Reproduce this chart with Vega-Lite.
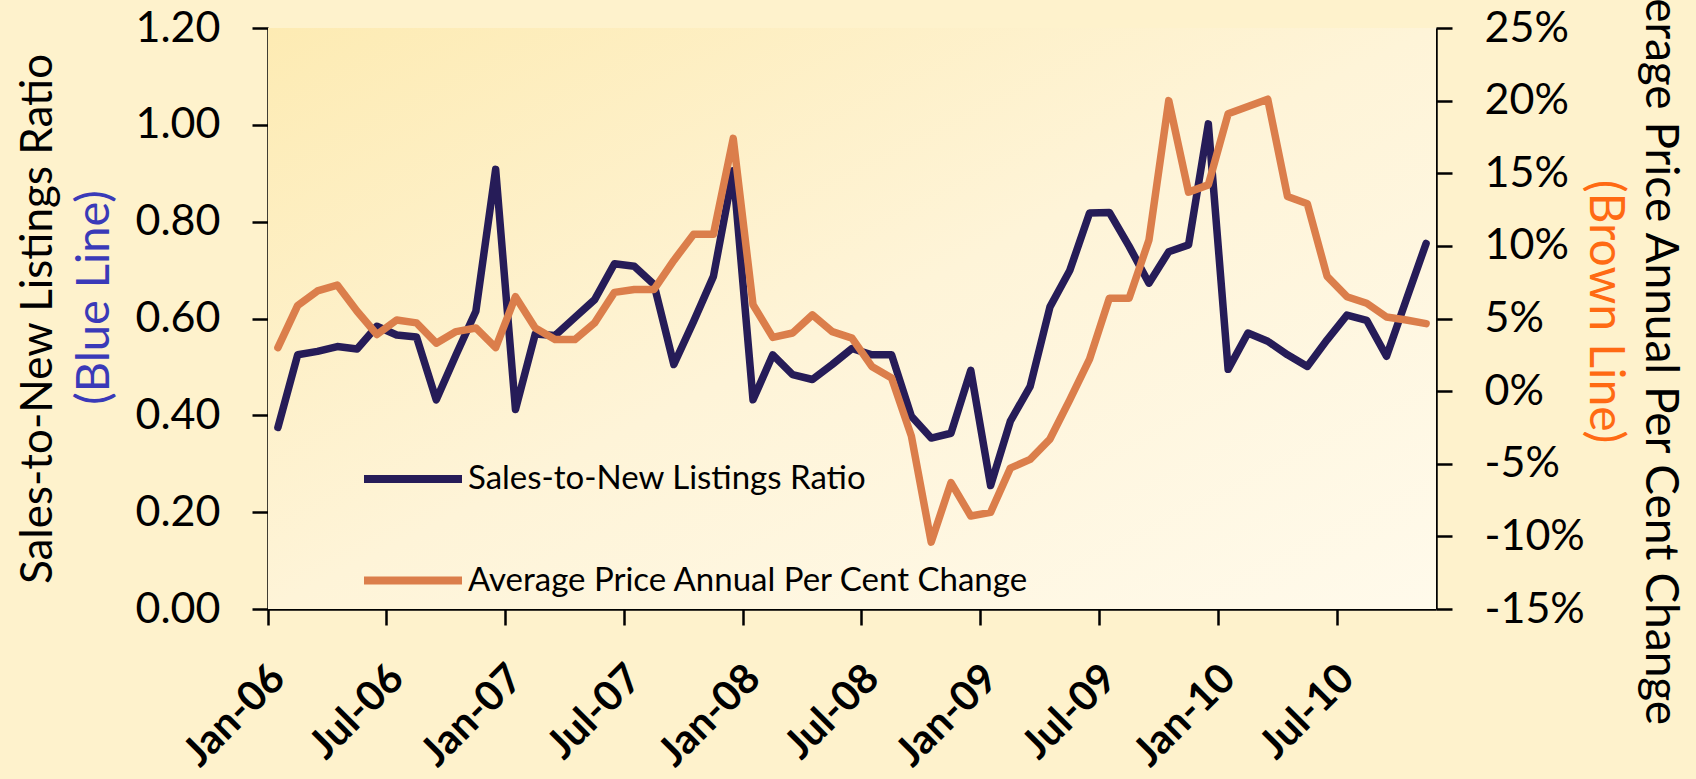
{
  "$schema": "https://vega.github.io/schema/vega-lite/v6.json",
  "width": 1168,
  "height": 581,
  "autosize": {"type": "none"},
  "padding": {"left": 268, "top": 28, "right": 260, "bottom": 170},
  "background": "#FEF2CC",
  "config": {
    "view": {"stroke": null},
    "font": "Lato",
    "axis": {
      "grid": false,
      "domainColor": "#000000",
      "domainWidth": 2.5,
      "tickColor": "#000000",
      "tickWidth": 2.5,
      "tickSize": 16,
      "labelColor": "#000000",
      "labelFont": "Lato",
      "labelFontSize": 43,
      "labelPadding": 32,
      "titleFont": "Lato",
      "titleFontSize": 44,
      "titleFontWeight": "normal",
      "titleColor": "#000000"
    }
  },
  "data": {
    "values": [
      {"month": "Jan-06", "ratio": 0.375, "pct": 3.0},
      {"month": "Feb-06", "ratio": 0.525, "pct": 5.9},
      {"month": "Mar-06", "ratio": 0.532, "pct": 6.9},
      {"month": "Apr-06", "ratio": 0.542, "pct": 7.3},
      {"month": "May-06", "ratio": 0.537, "pct": 5.5},
      {"month": "Jun-06", "ratio": 0.584, "pct": 3.9},
      {"month": "Jul-06", "ratio": 0.566, "pct": 4.9},
      {"month": "Aug-06", "ratio": 0.562, "pct": 4.7},
      {"month": "Sep-06", "ratio": 0.432, "pct": 3.3},
      {"month": "Oct-06", "ratio": 0.525, "pct": 4.1},
      {"month": "Nov-06", "ratio": 0.615, "pct": 4.35},
      {"month": "Dec-06", "ratio": 0.908, "pct": 3.0},
      {"month": "Jan-07", "ratio": 0.412, "pct": 6.5},
      {"month": "Feb-07", "ratio": 0.568, "pct": 4.35},
      {"month": "Mar-07", "ratio": 0.565, "pct": 3.55},
      {"month": "Apr-07", "ratio": 0.602, "pct": 3.55},
      {"month": "May-07", "ratio": 0.639, "pct": 4.7},
      {"month": "Jun-07", "ratio": 0.713, "pct": 6.8},
      {"month": "Jul-07", "ratio": 0.708, "pct": 7.0},
      {"month": "Aug-07", "ratio": 0.670, "pct": 7.0},
      {"month": "Sep-07", "ratio": 0.505, "pct": 9.0},
      {"month": "Oct-07", "ratio": 0.594, "pct": 10.8},
      {"month": "Nov-07", "ratio": 0.687, "pct": 10.8},
      {"month": "Dec-07", "ratio": 0.905, "pct": 17.4},
      {"month": "Jan-08", "ratio": 0.432, "pct": 5.95},
      {"month": "Feb-08", "ratio": 0.525, "pct": 3.7},
      {"month": "Mar-08", "ratio": 0.484, "pct": 4.0},
      {"month": "Apr-08", "ratio": 0.474, "pct": 5.25},
      {"month": "May-08", "ratio": 0.505, "pct": 4.1},
      {"month": "Jun-08", "ratio": 0.538, "pct": 3.65},
      {"month": "Jul-08", "ratio": 0.525, "pct": 1.7},
      {"month": "Aug-08", "ratio": 0.525, "pct": 0.9},
      {"month": "Sep-08", "ratio": 0.398, "pct": -3.1},
      {"month": "Oct-08", "ratio": 0.353, "pct": -10.4},
      {"month": "Nov-08", "ratio": 0.363, "pct": -6.3},
      {"month": "Dec-08", "ratio": 0.493, "pct": -8.6},
      {"month": "Jan-09", "ratio": 0.255, "pct": -8.35},
      {"month": "Feb-09", "ratio": 0.388, "pct": -5.3},
      {"month": "Mar-09", "ratio": 0.460, "pct": -4.7},
      {"month": "Apr-09", "ratio": 0.624, "pct": -3.3},
      {"month": "May-09", "ratio": 0.699, "pct": -0.6},
      {"month": "Jun-09", "ratio": 0.818, "pct": 2.2},
      {"month": "Jul-09", "ratio": 0.819, "pct": 6.4},
      {"month": "Aug-09", "ratio": 0.749, "pct": 6.4},
      {"month": "Sep-09", "ratio": 0.673, "pct": 10.4},
      {"month": "Oct-09", "ratio": 0.738, "pct": 20.0},
      {"month": "Nov-09", "ratio": 0.752, "pct": 13.7},
      {"month": "Dec-09", "ratio": 1.002, "pct": 14.2},
      {"month": "Jan-10", "ratio": 0.495, "pct": 19.1},
      {"month": "Feb-10", "ratio": 0.570, "pct": 19.6},
      {"month": "Mar-10", "ratio": 0.553, "pct": 20.1},
      {"month": "Apr-10", "ratio": 0.525, "pct": 13.4},
      {"month": "May-10", "ratio": 0.501, "pct": 12.9},
      {"month": "Jun-10", "ratio": 0.556, "pct": 7.9},
      {"month": "Jul-10", "ratio": 0.607, "pct": 6.5},
      {"month": "Aug-10", "ratio": 0.596, "pct": 6.05},
      {"month": "Sep-10", "ratio": 0.522, "pct": 5.1},
      {"month": "Oct-10", "ratio": 0.639, "pct": 4.9},
      {"month": "Nov-10", "ratio": 0.755, "pct": 4.65}
    ]
  },
  "encoding": {
    "x": {
      "field": "month",
      "type": "ordinal",
      "sort": null,
      "bandPosition": 0.5,
      "scale": {"type": "band", "paddingInner": 0, "paddingOuter": 0},
      "axis": {
        "title": null,
        "values": ["Jan-06", "Jul-06", "Jan-07", "Jul-07", "Jan-08", "Jul-08", "Jan-09", "Jul-09", "Jan-10", "Jul-10"],
        "bandPosition": 0,
        "labelAngle": -45,
        "labelAlign": "right",
        "labelBaseline": "middle",
        "labelFontWeight": "bold",
        "labelFontSize": 41,
        "labelPadding": 47,
        "labelOffset": 1
      }
    }
  },
  "layer": [
    {
      "data": {"values": [{"bg": 1}]},
      "mark": {
        "type": "rect",
        "fill": {
          "gradient": "linear",
          "x1": 0, "y1": 0, "x2": 1, "y2": 1,
          "stops": [
            {"offset": 0, "color": "#FDEBB3"},
            {"offset": 0.5, "color": "#FEF4D8"},
            {"offset": 1, "color": "#FFFAEB"}
          ]
        }
      },
      "encoding": {
        "x": {"value": 0},
        "x2": {"value": "width"},
        "y": {"value": 0},
        "y2": {"value": "height"}
      }
    },
    {
      "mark": {"type": "line", "strokeWidth": 7.5, "strokeCap": "round", "strokeJoin": "round"},
      "encoding": {
        "y": {
          "field": "ratio",
          "type": "quantitative",
          "scale": {"domain": [0, 1.2], "nice": false, "zero": false},
          "axis": {
            "orient": "left",
            "values": [0, 0.2, 0.4, 0.6, 0.8, 1.0, 1.2],
            "format": ".2f",
            "title": "(Blue Line)",
            "titleColor": "#3A3AB8",
            "titleFontSize": 47,
            "titleY": 269,
            "titlePadding": 17
          }
        },
        "color": {
          "datum": "Sales-to-New Listings Ratio",
          "type": "nominal",
          "scale": {
            "domain": ["Sales-to-New Listings Ratio", "Average Price Annual Per Cent Change"],
            "range": ["#261C58", "#DB7E4B"]
          },
          "legend": {
            "title": null,
            "orient": "none",
            "legendX": 92,
            "legendY": 398,
            "direction": "vertical",
            "padding": 0,
            "symbolType": "stroke",
            "symbolSize": 9604,
            "symbolStrokeWidth": 8,
            "labelFont": "Lato",
            "labelFontSize": 33,
            "labelColor": "#000000",
            "labelLimit": 1000,
            "labelOffset": 2,
            "rowPadding": 31.6
          }
        }
      }
    },
    {
      "mark": {"type": "line", "strokeWidth": 7.5, "strokeCap": "round", "strokeJoin": "round"},
      "encoding": {
        "y": {
          "field": "pct",
          "type": "quantitative",
          "scale": {"domain": [-15, 25], "nice": false, "zero": false},
          "axis": {
            "orient": "right",
            "values": [-15, -10, -5, 0, 5, 10, 15, 20, 25],
            "labelExpr": "datum.value + '%'",
            "title": "(Brown Line)",
            "titleColor": "#FF6A13",
            "titleFontSize": 48,
            "titleY": 283,
            "titlePadding": -5
          }
        },
        "color": {"datum": "Average Price Annual Per Cent Change", "type": "nominal"}
      }
    },
    {
      "mark": {"type": "line", "opacity": 0},
      "encoding": {
        "y": {
          "field": "ratio",
          "type": "quantitative",
          "scale": {"domain": [0, 1.2], "nice": false, "zero": false},
          "axis": {
            "orient": "left",
            "labels": false,
            "ticks": false,
            "domain": false,
            "title": "Sales-to-New Listings Ratio",
            "titlePadding": 208
          }
        }
      }
    },
    {
      "mark": {"type": "line", "opacity": 0},
      "encoding": {
        "y": {
          "field": "pct",
          "type": "quantitative",
          "scale": {"domain": [-15, 25], "nice": false, "zero": false},
          "axis": {
            "orient": "right",
            "labels": false,
            "ticks": false,
            "domain": false,
            "title": "Average Price Annual Per Cent Change",
            "titleFontSize": 46,
            "titlePadding": 199,
            "titleY": 307
          }
        }
      }
    }
  ],
  "resolve": {"scale": {"y": "independent"}, "axis": {"y": "independent"}}
}
